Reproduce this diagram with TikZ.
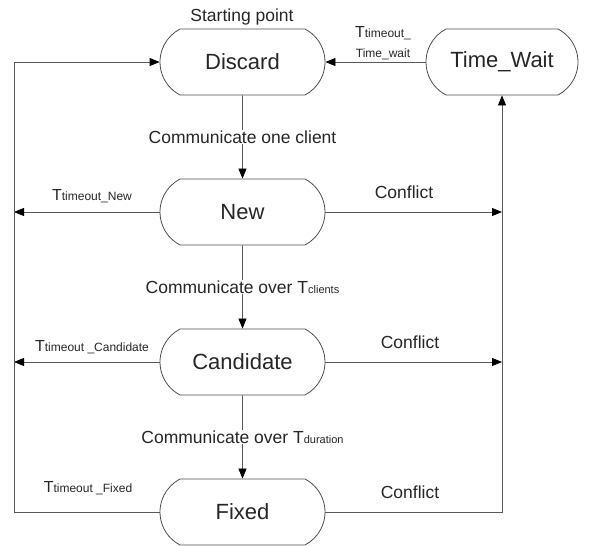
\documentclass[tikz,border=0pt]{standalone}
\usepackage{fontspec}
\setmainfont{Liberation Sans}
\usetikzlibrary{arrows.meta,shapes.misc}
% smaller index text written after a "T"
\newcommand\idx[1]{{\fontsize{12}{13}\selectfont #1}}
\newcommand\idxs[1]{{\fontsize{11}{12}\selectfont #1}}
\begin{document}
\begin{tikzpicture}[x=1pt,y=-1pt,
  state/.style={rounded rectangle, rounded rectangle arc length=125,
    draw=black!70, line width=0.8pt, minimum width=165pt, minimum height=66pt,
    inner sep=0pt, font=\fontsize{22}{24}\selectfont, text=black!85},
  lbl/.style={font=\fontsize{17.5}{20}\selectfont, text=black!85, inner sep=1pt},
  tlbl/.style={font=\fontsize{16}{18}\selectfont, text=black!85, inner sep=1pt},
  link/.style={draw=black!65, line width=0.8pt},
  arr/.style={link, -{Triangle[length=10pt,width=8pt,color=black]}}]
\useasboundingbox (0,0) rectangle (589,546);

% states
\node[state] (discard) at (242.5,62) {Discard};
\node[state] (new) at (242.5,212) {New};
\node[state] (cand) at (242.5,362) {Candidate};
\node[state] (fixed) at (242.5,512) {Fixed};
\node[state, minimum width=152pt] (wait) at (502,62) {Time\_Wait};

% column of the timeout return line
\coordinate (L) at (14,62);

\node[lbl] (start) at (242,17) {Starting point};

% forward path
\draw[arr] (discard) -- (new)
  node[midway, lbl, fill=white] (c1) {Communicate one client};
\draw[arr] (new) -- (cand)
  node[midway, lbl, fill=white] (c2) {Communicate over T\idxs{clients}};
\draw[arr] (cand) -- (fixed)
  node[midway, lbl, fill=white] (c3) {Communicate over T\idxs{duration}};

% timeouts back to Discard
\draw[arr] (wait.west) -- (discard.east);
\node[tlbl, align=center] (tw) at (383,43) {T\idx{timeout\_}\\[2pt]\idx{Time\_wait}};
\draw[arr] (new.west) -- (new.west -| L);
\node[tlbl] (tn) at (92,196) {T\idx{timeout\_New}};
\draw[arr] (cand.west) -- (cand.west -| L);
\node[tlbl] (tc) at (92,347) {T\idx{timeout \_Candidate}};
\draw[arr] (fixed.west) -- (fixed.west -| L) -- (discard.west -| L) -- (discard.west);
\node[tlbl] (tf) at (88,488) {T\idx{timeout \_Fixed}};

% conflicts to Time_Wait
\draw[arr] (new.east) -- (new.east -| wait.south);
\node[lbl] (k1) at (404,192) {Conflict};
\draw[arr] (cand.east) -- (cand.east -| wait.south);
\node[lbl] (k2) at (410,342) {Conflict};
\draw[arr] (fixed.east) -- (fixed.east -| wait.south) -- (wait.south);
\node[lbl] (k3) at (410,492) {Conflict};
\end{tikzpicture}
\end{document}
